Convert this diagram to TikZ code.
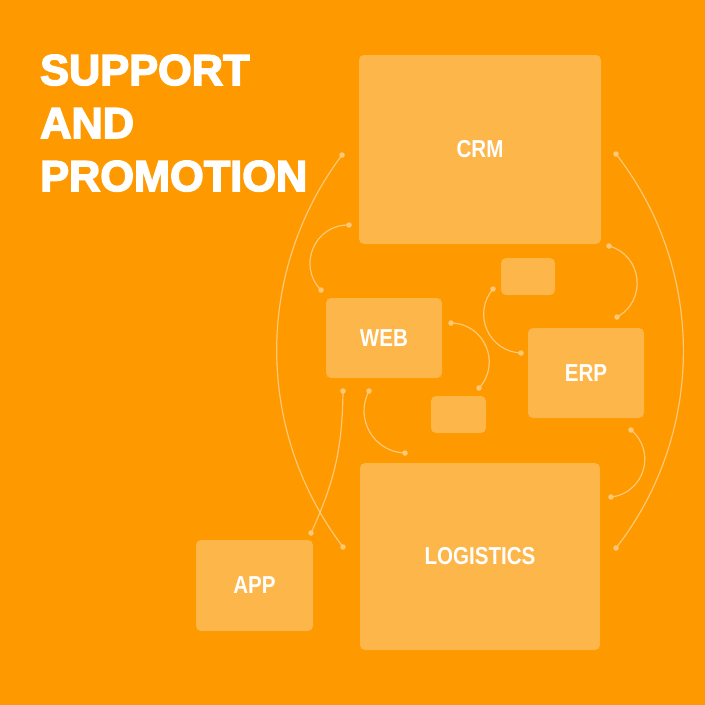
\documentclass[tikz,border=0pt]{standalone}
\usepackage{fontspec}
\setmainfont{Liberation Sans}
\newfontfamily\boxfont[FakeStretch=0.84]{Liberation Sans Bold}
\newfontfamily\titlefont[FakeBold=3.5]{Liberation Sans Bold}
\definecolor{bg}{RGB}{254,153,0}
\definecolor{boxfill}{RGB}{253,182,74}
\definecolor{linec}{RGB}{253,200,120}
\tikzset{
  panel/.style={fill=boxfill, rounded corners=5pt, draw=none, inner sep=0pt,
    text=white, font=\boxfont\fontsize{24.5}{25}\selectfont},
  ttl/.style={anchor=base west, inner sep=0pt, text=white,
    font=\titlefont\fontsize{43.3}{53}\selectfont},
  dotc/.style={circle, fill=linec, inner sep=0pt, minimum size=5.5pt},
  wire/.style={draw=linec, line width=1.2pt},
}
\begin{document}
\begin{tikzpicture}[x=1pt,y=-1pt]
\fill[bg] (0,0) rectangle (705,705);
\useasboundingbox (0,0) rectangle (705,705);
% title
\node[ttl] (t1) at (40,85) {SUPPORT};
\node[ttl] (t2) at (40,138) {AND};
\node[ttl] (t3) at (40,191) {PROMOTION};
% boxes
\node[panel, minimum width=242pt, minimum height=189pt] (crm) at (480,149.5) {CRM};
\node[panel, minimum width=54pt, minimum height=37pt] (s1) at (528,276.5) {};
\node[panel, minimum width=116pt, minimum height=80pt] (web) at (384,338) {WEB};
\node[panel, minimum width=116pt, minimum height=90pt] (erp) at (586,373) {ERP};
\node[panel, minimum width=55pt, minimum height=37pt] (s2) at (458.5,414.5) {};
\node[panel, minimum width=240pt, minimum height=187pt] (log) at (480,556.5) {LOGISTICS};
\node[panel, minimum width=117pt, minimum height=91pt] (app) at (254.5,585.5) {APP};
% dots
\node[dotc] (a1) at (342,155) {};
\node[dotc] (b1) at (343,547) {};
\node[dotc] (a2) at (349,225) {};
\node[dotc] (b2) at (321,290) {};
\node[dotc] (a3) at (343,391) {};
\node[dotc] (b3) at (311,533) {};
\node[dotc] (a4) at (369,391) {};
\node[dotc] (b4) at (405,453) {};
\node[dotc] (a5) at (451,323) {};
\node[dotc] (b5) at (479,388) {};
\node[dotc] (a6) at (493,289) {};
\node[dotc] (b6) at (521,353) {};
\node[dotc] (a7) at (609,246) {};
\node[dotc] (b7) at (617,317) {};
\node[dotc] (a8) at (631,430) {};
\node[dotc] (b8) at (611,497) {};
\node[dotc] (a9) at (616,154) {};
\node[dotc] (b9) at (616,548) {};
% wires
\draw[wire] (a1.center) to[bend right=37, looseness=0.95] (b1.center);
\draw[wire] (a2.center) to[bend right=68, looseness=1.24] (b2.center);
\draw[wire] (a3.center) to[bend left=12] (b3.center);
\draw[wire] (a4.center) to[bend right=58, looseness=1.12] (b4.center);
\draw[wire] (a5.center) to[bend left=66, looseness=1.21] (b5.center);
\draw[wire] (a6.center) to[bend right=64, looseness=1.19] (b6.center);
\draw[wire] (a7.center) to[bend left=68, looseness=1.24] (b7.center);
\draw[wire] (a8.center) to[bend left=67, looseness=1.23] (b8.center);
\draw[wire] (a9.center) to[bend left=38, looseness=0.95] (b9.center);
\end{tikzpicture}
\end{document}
